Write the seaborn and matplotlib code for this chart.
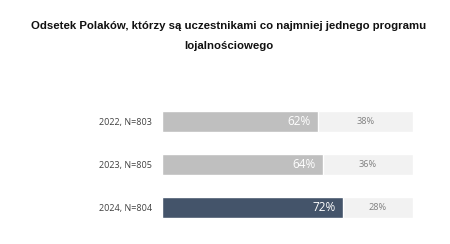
import matplotlib
matplotlib.use("Agg")
import matplotlib.pyplot as plt
import seaborn as sns
import pandas as pd

categories = ["2022, N=803", "2023, N=805", "2024, N=804"]
yes_values = [62, 64, 72]
no_values = [38, 36, 28]
bar_colors = ["#BFBFBF", "#BFBFBF", "#44546A"]
title = "Odsetek Polaków, którzy są uczestnikami co najmniej jednego programu\nlojalnościowego"

sns.set_style("white")
plt.rcParams["font.family"] = ["Open Sans", "DejaVu Sans"]

df = pd.DataFrame({"cat": categories, "yes": yes_values, "no": no_values})
df["total"] = df["yes"] + df["no"]

fig = plt.figure(figsize=(4.5, 2.44), dpi=100)
ax = fig.add_axes([0.36, 0.0615, 0.5578, 0.53])

sns.barplot(data=df, x="total", y="cat", color="#F2F2F2", width=0.48,
            saturation=1, ax=ax)
sns.barplot(data=df, x="yes", y="cat", hue="cat", palette=bar_colors,
            width=0.48, saturation=1, legend=False, ax=ax)

for i, (y, n) in enumerate(zip(yes_values, no_values)):
    ax.text(y - 2.6, i, f"{y}%", ha="right", va="center", color="white",
            fontsize=8.5)
    ax.text(y + n / 2, i, f"{n}%", ha="center", va="center", color="#808080",
            fontsize=6.6)

ax.set_xlim(0, 100)
ax.set_ylim(2.5, -0.5)
ax.set_xlabel("")
ax.set_ylabel("")
ax.set_xticks([])
ax.tick_params(axis="y", length=0, pad=7, labelsize=6.5, labelcolor="#404040")
sns.despine(ax=ax, left=True, bottom=True)

fig.text(0.508, 0.853, title, ha="center", va="center", fontsize=8.2,
         fontweight="bold", color="#111111", linespacing=2.2,
         family=["Liberation Sans", "DejaVu Sans"])

fig.savefig("out.png", dpi=100, facecolor="white")
